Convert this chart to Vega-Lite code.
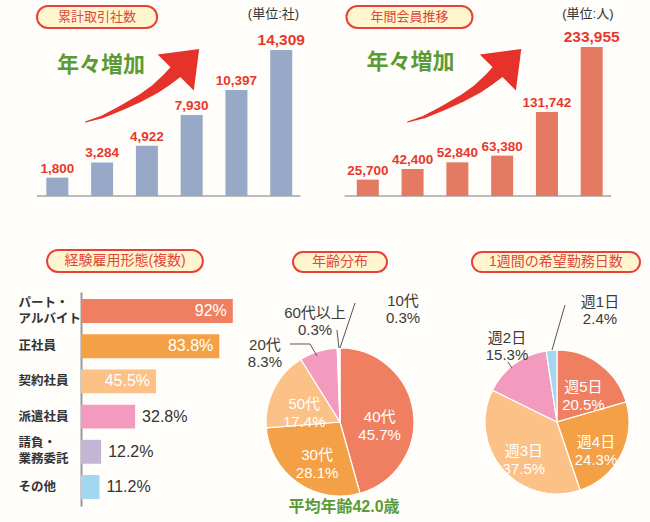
{
  "$schema": "https://vega.github.io/schema/vega-lite/v6.json",
  "background": "#fffdf9",
  "padding": 0,
  "spacing": 0,
  "config": {"view": {"stroke": null}, "font": "Liberation Sans, Noto Sans CJK JP", "axis": {"grid": false}},
  "resolve": {"scale": {"color": "independent", "theta": "independent", "size": "independent"}},
  "datasets": {
    "trades": [
      {"year": 2013, "count": 1800}, {"year": 2014, "count": 3284}, {"year": 2015, "count": 4922},
      {"year": 2016, "count": 7930}, {"year": 2017, "count": 10397}, {"year": 2018, "count": 14309}
    ],
    "members": [
      {"year": 2013, "count": 25700}, {"year": 2014, "count": 42400}, {"year": 2015, "count": 52840},
      {"year": 2016, "count": 63380}, {"year": 2017, "count": 131742}, {"year": 2018, "count": 233955}
    ],
    "arrowA": [
      {"ax": 2013.628, "ay": 7253, "t": 0.07}, {"ax": 2013.996, "ay": 7743, "t": 0.2},
      {"ax": 2014.428, "ay": 8625, "t": 0.35}, {"ax": 2014.861, "ay": 9605, "t": 0.52},
      {"ax": 2015.186, "ay": 10487, "t": 0.68}, {"ax": 2015.467, "ay": 11467, "t": 0.85},
      {"ax": 2015.662, "ay": 12251, "t": 1.0}
    ],
    "arrowB": [
      {"ax": 2013.888, "ay": 116195, "t": 0.07}, {"ax": 2014.256, "ay": 124046, "t": 0.2},
      {"ax": 2014.688, "ay": 138178, "t": 0.35}, {"ax": 2015.121, "ay": 153880, "t": 0.52},
      {"ax": 2015.446, "ay": 168011, "t": 0.68}, {"ax": 2015.727, "ay": 183713, "t": 0.85},
      {"ax": 2015.922, "ay": 196275, "t": 1.0}
    ],
    "employment": [
      {"cat": "パート・アルバイト", "pct": 92, "label": "92%"},
      {"cat": "正社員", "pct": 83.8, "label": "83.8%"},
      {"cat": "契約社員", "pct": 45.5, "label": "45.5%"},
      {"cat": "派遣社員", "pct": 32.8, "label": "32.8%"},
      {"cat": "請負・業務委託", "pct": 12.2, "label": "12.2%"},
      {"cat": "その他", "pct": 11.2, "label": "11.2%"}
    ],
    "ages": [
      {"name": "40代", "pct": 45.7, "label": "40代\n45.7%", "o": 1},
      {"name": "30代", "pct": 28.1, "label": "30代\n28.1%", "o": 2},
      {"name": "50代", "pct": 17.4, "label": "50代\n17.4%", "o": 3},
      {"name": "20代", "pct": 8.3, "label": "20代\n8.3%", "o": 4},
      {"name": "60代以上", "pct": 0.3, "label": "60代以上\n0.3%", "o": 5},
      {"name": "10代", "pct": 0.3, "label": "10代\n0.3%", "o": 6}
    ],
    "days": [
      {"name": "週5日", "pct": 20.5, "label": "週5日\n20.5%", "o": 1},
      {"name": "週4日", "pct": 24.3, "label": "週4日\n24.3%", "o": 2},
      {"name": "週3日", "pct": 37.5, "label": "週3日\n37.5%", "o": 3},
      {"name": "週2日", "pct": 15.3, "label": "週2日\n15.3%", "o": 4},
      {"name": "週1日", "pct": 2.4, "label": "週1日\n2.4%", "o": 5}
    ]
  },
  "vconcat": [
    {
      "spacing": 0,
      "resolve": {"scale": {"color": "independent", "theta": "independent", "size": "independent"}},
      "hconcat": [
        {
          "width": 325, "height": 240,
          "layer": [
            {"data": {"values": [{}]}, "mark": {"type": "rect", "cornerRadius": 11, "fill": "#fff6cf", "stroke": "#e8413b", "strokeWidth": 2},
             "encoding": {
               "x": {"datum": 2012.545, "type": "quantitative", "scale": {"domain": [2011.831, 2018.866], "nice": false, "zero": false}, "axis": null},
               "x2": {"datum": 2015.229},
               "y": {"datum": 18622, "type": "quantitative", "scale": {"domain": [-4312, 19210], "nice": false, "zero": false}, "axis": null},
               "y2": {"datum": 16466}}},
            {"data": {"values": [{}]}, "mark": {"type": "text", "fontSize": 13, "color": "#e0463b"},
             "encoding": {
               "x": {"datum": 2013.887, "type": "quantitative", "scale": {"domain": [2011.831, 2018.866], "nice": false, "zero": false}, "axis": null},
               "y": {"datum": 17544, "type": "quantitative", "scale": {"domain": [-4312, 19210], "nice": false, "zero": false}, "axis": null},
               "text": {"value": "累計取引社数"}}},
            {"data": {"values": [{}]}, "mark": {"type": "text", "fontSize": 13, "color": "#333333"},
             "encoding": {
               "x": {"datum": 2017.827, "type": "quantitative", "scale": {"domain": [2011.831, 2018.866], "nice": false, "zero": false}, "axis": null},
               "y": {"datum": 17838, "type": "quantitative", "scale": {"domain": [-4312, 19210], "nice": false, "zero": false}, "axis": null},
               "text": {"value": "(単位:社)"}}},
            {"data": {"values": [{}]}, "mark": {"type": "text", "fontSize": 22, "fontWeight": "bold", "color": "#5b9b35"},
             "encoding": {
               "x": {"datum": 2013.974, "type": "quantitative", "scale": {"domain": [2011.831, 2018.866], "nice": false, "zero": false}, "axis": null},
               "y": {"datum": 12839, "type": "quantitative", "scale": {"domain": [-4312, 19210], "nice": false, "zero": false}, "axis": null},
               "text": {"value": "年々増加"}}},
            {"data": {"name": "arrowA"}, "mark": {"type": "trail", "color": "#e5322b"},
             "encoding": {
               "x": {"field": "ax", "type": "quantitative", "scale": {"domain": [2011.831, 2018.866], "nice": false, "zero": false}, "axis": null},
               "y": {"field": "ay", "type": "quantitative", "scale": {"domain": [-4312, 19210], "nice": false, "zero": false}, "axis": null},
               "size": {"field": "t", "type": "quantitative", "scale": {"domain": [0, 1], "range": [0, 14]}, "legend": null}}},
            {"data": {"values": [{}]}, "mark": {"type": "point", "shape": "M -1 0.65 L 1 0.65 L 0 -0.65 Z", "size": 2601, "angle": 45, "filled": true, "color": "#e5322b", "opacity": 1},
             "encoding": {
               "x": {"datum": 2015.906, "type": "quantitative", "scale": {"domain": [2011.831, 2018.866], "nice": false, "zero": false}, "axis": null},
               "y": {"datum": 13256, "type": "quantitative", "scale": {"domain": [-4312, 19210], "nice": false, "zero": false}, "axis": null}}},
            {"data": {"values": [{}]}, "mark": {"type": "rule", "color": "#a5a5a5", "strokeWidth": 1.5},
             "encoding": {
               "x": {"datum": 2012.545, "type": "quantitative", "scale": {"domain": [2011.831, 2018.866], "nice": false, "zero": false}, "axis": null},
               "x2": {"datum": 2018.433},
               "y": {"datum": 0, "type": "quantitative", "scale": {"domain": [-4312, 19210], "nice": false, "zero": false}, "axis": null}}},
            {"data": {"name": "trades"}, "mark": {"type": "bar", "size": 22, "color": "#98a9c7"},
             "encoding": {
               "x": {"field": "year", "type": "quantitative", "scale": {"domain": [2011.831, 2018.866], "nice": false, "zero": false},
                     "axis": {"values": [2013, 2014, 2015, 2016, 2017, 2018], "labelExpr": "datum.value + '年'", "domain": false, "ticks": false, "tickSize": 0, "grid": false, "title": null, "offset": -44, "labelPadding": 8, "labelFontSize": 11, "labelColor": "#444444", "labelFlush": false, "labelOverlap": false}},
               "y": {"field": "count", "type": "quantitative", "scale": {"domain": [-4312, 19210], "nice": false, "zero": false}, "axis": null}}},
            {"data": {"name": "trades"}, "mark": {"type": "text", "baseline": "alphabetic", "dy": -5, "fontWeight": "bold", "color": "#e8382c"},
             "encoding": {
               "x": {"field": "year", "type": "quantitative", "scale": {"domain": [2011.831, 2018.866], "nice": false, "zero": false}, "axis": null},
               "y": {"field": "count", "type": "quantitative", "scale": {"domain": [-4312, 19210], "nice": false, "zero": false}, "axis": null},
               "text": {"field": "count", "type": "quantitative", "format": ","},
               "size": {"condition": {"test": "datum.year == 2018", "value": 15.5}, "value": 13.5}}}
          ]
        },
        {
          "width": 325, "height": 240,
          "layer": [
            {"data": {"values": [{}]}, "mark": {"type": "rect", "cornerRadius": 11, "fill": "#fff6cf", "stroke": "#e8413b", "strokeWidth": 2},
             "encoding": {
               "x": {"datum": 2012.524, "type": "quantitative", "scale": {"domain": [2012.156, 2019.19], "nice": false, "zero": false}, "axis": null},
               "x2": {"datum": 2015.338},
               "y": {"datum": 298338, "type": "quantitative", "scale": {"domain": [-69089, 307760], "nice": false, "zero": false}, "axis": null},
               "y2": {"datum": 263794}}},
            {"data": {"values": [{}]}, "mark": {"type": "text", "fontSize": 13, "color": "#e0463b"},
             "encoding": {
               "x": {"datum": 2013.931, "type": "quantitative", "scale": {"domain": [2012.156, 2019.19], "nice": false, "zero": false}, "axis": null},
               "y": {"datum": 281066, "type": "quantitative", "scale": {"domain": [-69089, 307760], "nice": false, "zero": false}, "axis": null},
               "text": {"value": "年間会員推移"}}},
            {"data": {"values": [{}]}, "mark": {"type": "text", "fontSize": 13, "color": "#333333"},
             "encoding": {
               "x": {"datum": 2017.914, "type": "quantitative", "scale": {"domain": [2012.156, 2019.19], "nice": false, "zero": false}, "axis": null},
               "y": {"datum": 285776, "type": "quantitative", "scale": {"domain": [-69089, 307760], "nice": false, "zero": false}, "axis": null},
               "text": {"value": "(単位:人)"}}},
            {"data": {"values": [{}]}, "mark": {"type": "text", "fontSize": 22, "fontWeight": "bold", "color": "#5b9b35"},
             "encoding": {
               "x": {"datum": 2013.953, "type": "quantitative", "scale": {"domain": [2012.156, 2019.19], "nice": false, "zero": false}, "axis": null},
               "y": {"datum": 210407, "type": "quantitative", "scale": {"domain": [-69089, 307760], "nice": false, "zero": false}, "axis": null},
               "text": {"value": "年々増加"}}},
            {"data": {"name": "arrowB"}, "mark": {"type": "trail", "color": "#e5322b"},
             "encoding": {
               "x": {"field": "ax", "type": "quantitative", "scale": {"domain": [2012.156, 2019.19], "nice": false, "zero": false}, "axis": null},
               "y": {"field": "ay", "type": "quantitative", "scale": {"domain": [-69089, 307760], "nice": false, "zero": false}, "axis": null},
               "size": {"field": "t", "type": "quantitative", "scale": {"domain": [0, 1], "range": [0, 14]}, "legend": null}}},
            {"data": {"values": [{}]}, "mark": {"type": "point", "shape": "M -1 0.65 L 1 0.65 L 0 -0.65 Z", "size": 2601, "angle": 45, "filled": true, "color": "#e5322b", "opacity": 1},
             "encoding": {
               "x": {"datum": 2016.166, "type": "quantitative", "scale": {"domain": [2012.156, 2019.19], "nice": false, "zero": false}, "axis": null},
               "y": {"datum": 212370, "type": "quantitative", "scale": {"domain": [-69089, 307760], "nice": false, "zero": false}, "axis": null}}},
            {"data": {"values": [{}]}, "mark": {"type": "rule", "color": "#a5a5a5", "strokeWidth": 1.5},
             "encoding": {
               "x": {"datum": 2012.481, "type": "quantitative", "scale": {"domain": [2012.156, 2019.19], "nice": false, "zero": false}, "axis": null},
               "x2": {"datum": 2018.433},
               "y": {"datum": 0, "type": "quantitative", "scale": {"domain": [-69089, 307760], "nice": false, "zero": false}, "axis": null}}},
            {"data": {"name": "members"}, "mark": {"type": "bar", "size": 22, "color": "#e47a61"},
             "encoding": {
               "x": {"field": "year", "type": "quantitative", "scale": {"domain": [2012.156, 2019.19], "nice": false, "zero": false},
                     "axis": {"values": [2013, 2014, 2015, 2016, 2017, 2018], "labelExpr": "datum.value + '年'", "domain": false, "ticks": false, "tickSize": 0, "grid": false, "title": null, "offset": -44, "labelPadding": 8, "labelFontSize": 11, "labelColor": "#444444", "labelFlush": false, "labelOverlap": false}},
               "y": {"field": "count", "type": "quantitative", "scale": {"domain": [-69089, 307760], "nice": false, "zero": false}, "axis": null}}},
            {"data": {"name": "members"}, "mark": {"type": "text", "baseline": "alphabetic", "dy": -5, "fontWeight": "bold", "color": "#e8382c"},
             "encoding": {
               "x": {"field": "year", "type": "quantitative", "scale": {"domain": [2012.156, 2019.19], "nice": false, "zero": false}, "axis": null},
               "y": {"field": "count", "type": "quantitative", "scale": {"domain": [-69089, 307760], "nice": false, "zero": false}, "axis": null},
               "text": {"field": "count", "type": "quantitative", "format": ","},
               "size": {"condition": {"test": "datum.year == 2018", "value": 15.5}, "value": 13.5}}}
          ]
        }
      ]
    },
    {
      "spacing": 0,
      "resolve": {"scale": {"color": "independent", "theta": "independent", "size": "independent"}},
      "hconcat": [
        {
          "width": 240, "height": 282,
          "resolve": {"scale": {"y": "independent"}},
          "layer": [
            {
              "data": {"name": "employment"},
              "encoding": {
                "y": {"field": "cat", "type": "nominal", "sort": null,
                      "scale": {"range": [52, 266], "paddingInner": 0.32, "paddingOuter": 0.2},
                      "axis": {"title": null, "domainColor": "#9a9a9a", "domainWidth": 2, "ticks": false, "tickSize": 0, "labelAlign": "left", "labelPadding": 63, "offset": -81, "labelFontSize": 12.5, "labelFontWeight": "bold", "labelColor": "#333333", "labelLineHeight": 16, "labelFont": "Noto Sans CJK JP", "labelBaseline": "middle", "labelLimit": 0,
                               "labelOffset": {"condition": {"test": "datum.label == 'パート・アルバイト' || datum.label == '請負・業務委託'", "value": -8.5}, "value": 0},
                               "labelExpr": "datum.label == 'パート・アルバイト' ? ['パート・', 'アルバイト'] : datum.label == '請負・業務委託' ? ['請負・', '業務委託'] : datum.label"}},
                "x": {"field": "pct", "type": "quantitative", "scale": {"domain": [0, 100], "range": [81, 246], "nice": false, "zero": false}, "axis": null}
              },
              "layer": [
                {"mark": {"type": "bar"},
                 "encoding": {"color": {"field": "cat", "type": "nominal", "sort": null, "legend": null,
                   "scale": {"domain": ["パート・アルバイト", "正社員", "契約社員", "派遣社員", "請負・業務委託", "その他"], "range": ["#ef7f60", "#f4a046", "#fbc187", "#f29bbf", "#c4b5d7", "#a3d7ef"]}}}},
                {"transform": [{"filter": "datum.pct > 40"}], "mark": {"type": "text", "align": "right", "dx": -6, "color": "#ffffff", "fontSize": 16},
                 "encoding": {"text": {"field": "label", "type": "nominal"}}},
                {"transform": [{"filter": "datum.pct <= 40"}], "mark": {"type": "text", "align": "left", "dx": 7, "color": "#333333", "fontSize": 16},
                 "encoding": {"text": {"field": "label", "type": "nominal"}}}
              ]
            },
            {"data": {"values": [{}]}, "mark": {"type": "rect", "cornerRadius": 11, "fill": "#fff6cf", "stroke": "#e8413b", "strokeWidth": 2},
             "encoding": {
               "x": {"datum": -20.6, "type": "quantitative", "scale": {"domain": [0, 100], "range": [81, 246], "nice": false, "zero": false}, "axis": null},
               "x2": {"datum": 73.9},
               "y": {"datum": 0.9645, "type": "quantitative", "scale": {"domain": [0, 1], "nice": false, "zero": false}, "axis": null},
               "y2": {"datum": 0.8865}}},
            {"data": {"values": [{}]}, "mark": {"type": "text", "fontSize": 14, "color": "#e0463b"},
             "encoding": {
               "x": {"datum": 26.7, "type": "quantitative", "scale": {"domain": [0, 100], "range": [81, 246], "nice": false, "zero": false}, "axis": null},
               "y": {"datum": 0.9255, "type": "quantitative", "scale": {"domain": [0, 1], "nice": false, "zero": false}, "axis": null},
               "text": {"value": "経験雇用形態(複数)"}}}
          ]
        },
        {
          "width": 200, "height": 282,
          "data": {"name": "ages"},
          "layer": [
            {"mark": {"type": "arc", "outerRadius": 74, "stroke": "#ffffff", "strokeWidth": 1.2},
             "encoding": {
               "theta": {"field": "pct", "type": "quantitative", "stack": true},
               "order": {"field": "o", "type": "quantitative"},
               "color": {"field": "name", "type": "nominal", "legend": null,
                 "scale": {"domain": ["40代", "30代", "50代", "20代", "60代以上", "10代"], "range": ["#ef7f60", "#f4a046", "#fbc187", "#f29bbf", "#e3eef5", "#a3d7ef"]}},
               "x": {"datum": 0, "type": "quantitative", "scale": {"domain": [-1.351, 1.351], "nice": false, "zero": false}, "axis": null},
               "y": {"datum": 0, "type": "quantitative", "scale": {"domain": [-1.351, 2.459], "nice": false, "zero": false}, "axis": null}}},
            {"mark": {"type": "text", "radius": 40, "color": "#ffffff", "fontSize": 15, "lineBreak": "\n", "lineHeight": 18},
             "encoding": {
               "theta": {"field": "pct", "type": "quantitative", "stack": true},
               "order": {"field": "o", "type": "quantitative"},
               "x": {"datum": 0, "type": "quantitative", "scale": {"domain": [-1.351, 1.351], "nice": false, "zero": false}, "axis": null},
               "y": {"datum": 0, "type": "quantitative", "scale": {"domain": [-1.351, 2.459], "nice": false, "zero": false}, "axis": null},
               "text": {"field": "label", "type": "nominal"},
               "opacity": {"condition": {"test": "datum.pct < 10", "value": 0}, "value": 1}}},
            {"transform": [{"filter": "datum.name == '10代'"}], "mark": {"type": "text", "color": "#3a3a3a", "fontSize": 15, "lineBreak": "\n", "lineHeight": 17},
             "encoding": {
               "x": {"datum": 0.851, "type": "quantitative", "scale": {"domain": [-1.351, 1.351], "nice": false, "zero": false}, "axis": null},
               "y": {"datum": 1.635, "type": "quantitative", "scale": {"domain": [-1.351, 2.459], "nice": false, "zero": false}, "axis": null},
               "text": {"field": "label", "type": "nominal"}}},
            {"transform": [{"filter": "datum.name == '60代以上'"}], "mark": {"type": "text", "color": "#3a3a3a", "fontSize": 15, "lineBreak": "\n", "lineHeight": 17},
             "encoding": {
               "x": {"datum": -0.338, "type": "quantitative", "scale": {"domain": [-1.351, 1.351], "nice": false, "zero": false}, "axis": null},
               "y": {"datum": 1.473, "type": "quantitative", "scale": {"domain": [-1.351, 2.459], "nice": false, "zero": false}, "axis": null},
               "text": {"field": "label", "type": "nominal"}}},
            {"transform": [{"filter": "datum.name == '20代'"}], "mark": {"type": "text", "color": "#3a3a3a", "fontSize": 15, "lineBreak": "\n", "lineHeight": 17},
             "encoding": {
               "x": {"datum": -1.014, "type": "quantitative", "scale": {"domain": [-1.351, 1.351], "nice": false, "zero": false}, "axis": null},
               "y": {"datum": 1.041, "type": "quantitative", "scale": {"domain": [-1.351, 2.459], "nice": false, "zero": false}, "axis": null},
               "text": {"field": "label", "type": "nominal"}}},
            {"data": {"values": [{}]}, "mark": {"type": "rule", "color": "#555555", "strokeWidth": 1},
             "encoding": {
               "x": {"datum": 0.203, "type": "quantitative", "scale": {"domain": [-1.351, 1.351], "nice": false, "zero": false}, "axis": null},
               "y": {"datum": 1.608, "type": "quantitative", "scale": {"domain": [-1.351, 2.459], "nice": false, "zero": false}, "axis": null},
               "x2": {"datum": 0.0}, "y2": {"datum": 1.0}}},
            {"data": {"values": [{}]}, "mark": {"type": "rule", "color": "#555555", "strokeWidth": 1},
             "encoding": {
               "x": {"datum": -0.041, "type": "quantitative", "scale": {"domain": [-1.351, 1.351], "nice": false, "zero": false}, "axis": null},
               "y": {"datum": 1.243, "type": "quantitative", "scale": {"domain": [-1.351, 2.459], "nice": false, "zero": false}, "axis": null},
               "x2": {"datum": -0.014}, "y2": {"datum": 1.0}}},
            {"data": {"values": [{}]}, "mark": {"type": "rule", "color": "#555555", "strokeWidth": 1},
             "encoding": {
               "x": {"datum": -0.676, "type": "quantitative", "scale": {"domain": [-1.351, 1.351], "nice": false, "zero": false}, "axis": null},
               "y": {"datum": 1.054, "type": "quantitative", "scale": {"domain": [-1.351, 2.459], "nice": false, "zero": false}, "axis": null},
               "x2": {"datum": -0.405}, "y2": {"datum": 1.054}}},
            {"data": {"values": [{}]}, "mark": {"type": "rule", "color": "#555555", "strokeWidth": 1},
             "encoding": {
               "x": {"datum": -0.405, "type": "quantitative", "scale": {"domain": [-1.351, 1.351], "nice": false, "zero": false}, "axis": null},
               "y": {"datum": 1.054, "type": "quantitative", "scale": {"domain": [-1.351, 2.459], "nice": false, "zero": false}, "axis": null},
               "x2": {"datum": -0.311}, "y2": {"datum": 0.892}}},
            {"data": {"values": [{}]}, "mark": {"type": "rect", "cornerRadius": 11, "fill": "#fff6cf", "stroke": "#e8413b", "strokeWidth": 2},
             "encoding": {
               "x": {"datum": -0.635, "type": "quantitative", "scale": {"domain": [-1.351, 1.351], "nice": false, "zero": false}, "axis": null},
               "x2": {"datum": 0.635},
               "y": {"datum": 2.297, "type": "quantitative", "scale": {"domain": [-1.351, 2.459], "nice": false, "zero": false}, "axis": null},
               "y2": {"datum": 2.027}}},
            {"data": {"values": [{}]}, "mark": {"type": "text", "fontSize": 14, "color": "#e0463b"},
             "encoding": {
               "x": {"datum": 0, "type": "quantitative", "scale": {"domain": [-1.351, 1.351], "nice": false, "zero": false}, "axis": null},
               "y": {"datum": 2.162, "type": "quantitative", "scale": {"domain": [-1.351, 2.459], "nice": false, "zero": false}, "axis": null},
               "text": {"value": "年齢分布"}}},
            {"data": {"values": [{}]}, "mark": {"type": "text", "fontSize": 16, "fontWeight": "bold", "color": "#5b9b35"},
             "encoding": {
               "x": {"datum": 0.054, "type": "quantitative", "scale": {"domain": [-1.351, 1.351], "nice": false, "zero": false}, "axis": null},
               "y": {"datum": -1.149, "type": "quantitative", "scale": {"domain": [-1.351, 2.459], "nice": false, "zero": false}, "axis": null},
               "text": {"value": "平均年齢42.0歳"}}}
          ]
        },
        {
          "width": 210, "height": 282,
          "data": {"name": "days"},
          "layer": [
            {"mark": {"type": "arc", "outerRadius": 72, "stroke": "#ffffff", "strokeWidth": 1.2},
             "encoding": {
               "theta": {"field": "pct", "type": "quantitative", "stack": true},
               "order": {"field": "o", "type": "quantitative"},
               "color": {"field": "name", "type": "nominal", "legend": null,
                 "scale": {"domain": ["週5日", "週4日", "週3日", "週2日", "週1日"], "range": ["#ef7f60", "#f4a046", "#fbc187", "#f29bbf", "#a3d7ef"]}},
               "x": {"datum": 0, "type": "quantitative", "scale": {"domain": [-1.625, 1.292], "nice": false, "zero": false}, "axis": null},
               "y": {"datum": 0, "type": "quantitative", "scale": {"domain": [-1.389, 2.528], "nice": false, "zero": false}, "axis": null}}},
            {"mark": {"type": "text", "radius": 44, "color": "#ffffff", "fontSize": 15, "lineBreak": "\n", "lineHeight": 18},
             "encoding": {
               "theta": {"field": "pct", "type": "quantitative", "stack": true},
               "order": {"field": "o", "type": "quantitative"},
               "x": {"datum": 0, "type": "quantitative", "scale": {"domain": [-1.625, 1.292], "nice": false, "zero": false}, "axis": null},
               "y": {"datum": 0, "type": "quantitative", "scale": {"domain": [-1.389, 2.528], "nice": false, "zero": false}, "axis": null},
               "text": {"field": "label", "type": "nominal"},
               "opacity": {"condition": {"test": "datum.pct < 16", "value": 0}, "value": 1}}},
            {"transform": [{"filter": "datum.name == '週1日'"}], "mark": {"type": "text", "color": "#3a3a3a", "fontSize": 15, "lineBreak": "\n", "lineHeight": 17},
             "encoding": {
               "x": {"datum": 0.597, "type": "quantitative", "scale": {"domain": [-1.625, 1.292], "nice": false, "zero": false}, "axis": null},
               "y": {"datum": 1.667, "type": "quantitative", "scale": {"domain": [-1.389, 2.528], "nice": false, "zero": false}, "axis": null},
               "text": {"field": "label", "type": "nominal"}}},
            {"transform": [{"filter": "datum.name == '週2日'"}], "mark": {"type": "text", "color": "#3a3a3a", "fontSize": 15, "lineBreak": "\n", "lineHeight": 17},
             "encoding": {
               "x": {"datum": -0.694, "type": "quantitative", "scale": {"domain": [-1.625, 1.292], "nice": false, "zero": false}, "axis": null},
               "y": {"datum": 1.167, "type": "quantitative", "scale": {"domain": [-1.389, 2.528], "nice": false, "zero": false}, "axis": null},
               "text": {"field": "label", "type": "nominal"}}},
            {"data": {"values": [{}]}, "mark": {"type": "rule", "color": "#555555", "strokeWidth": 1},
             "encoding": {
               "x": {"datum": 0.111, "type": "quantitative", "scale": {"domain": [-1.625, 1.292], "nice": false, "zero": false}, "axis": null},
               "y": {"datum": 1.625, "type": "quantitative", "scale": {"domain": [-1.389, 2.528], "nice": false, "zero": false}, "axis": null},
               "x2": {"datum": -0.069}, "y2": {"datum": 1.0}}},
            {"data": {"values": [{}]}, "mark": {"type": "rule", "color": "#555555", "strokeWidth": 1},
             "encoding": {
               "x": {"datum": -0.681, "type": "quantitative", "scale": {"domain": [-1.625, 1.292], "nice": false, "zero": false}, "axis": null},
               "y": {"datum": 0.833, "type": "quantitative", "scale": {"domain": [-1.389, 2.528], "nice": false, "zero": false}, "axis": null},
               "x2": {"datum": -0.625}, "y2": {"datum": 0.75}}},
            {"data": {"values": [{}]}, "mark": {"type": "rect", "cornerRadius": 11, "fill": "#fff6cf", "stroke": "#e8413b", "strokeWidth": 2},
             "encoding": {
               "x": {"datum": -1.181, "type": "quantitative", "scale": {"domain": [-1.625, 1.292], "nice": false, "zero": false}, "axis": null},
               "x2": {"datum": 1.153},
               "y": {"datum": 2.361, "type": "quantitative", "scale": {"domain": [-1.389, 2.528], "nice": false, "zero": false}, "axis": null},
               "y2": {"datum": 2.083}}},
            {"data": {"values": [{}]}, "mark": {"type": "text", "fontSize": 14, "color": "#e0463b"},
             "encoding": {
               "x": {"datum": -0.014, "type": "quantitative", "scale": {"domain": [-1.625, 1.292], "nice": false, "zero": false}, "axis": null},
               "y": {"datum": 2.222, "type": "quantitative", "scale": {"domain": [-1.389, 2.528], "nice": false, "zero": false}, "axis": null},
               "text": {"value": "1週間の希望勤務日数"}}}
          ]
        }
      ]
    }
  ]
}
